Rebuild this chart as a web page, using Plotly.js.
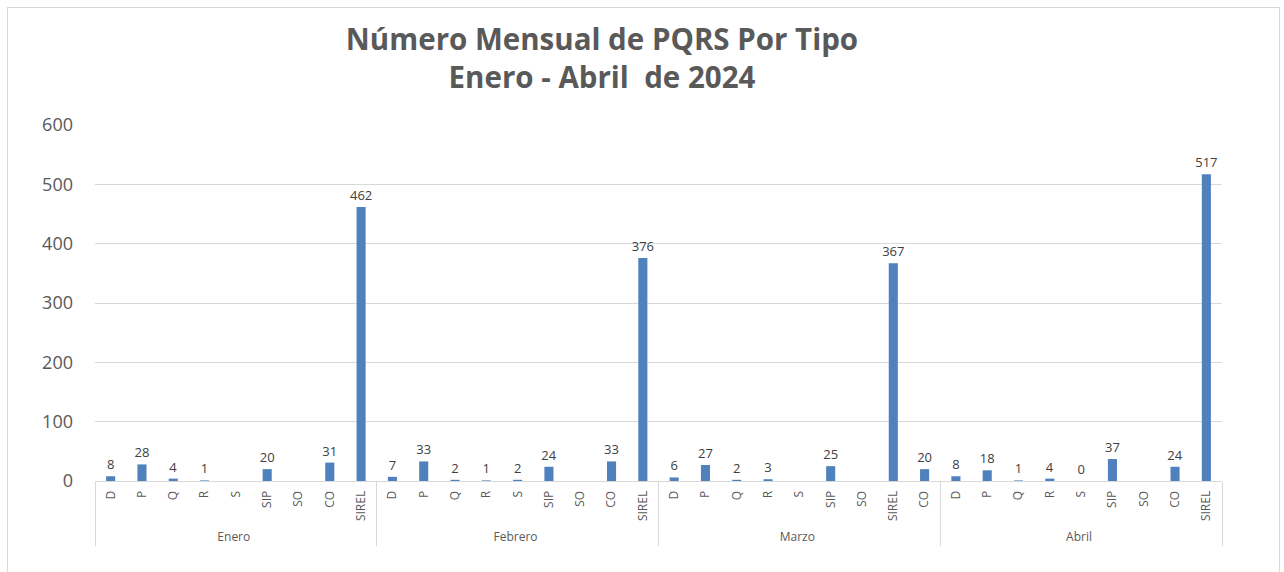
<!DOCTYPE html>
<html>
<head>
<meta charset="utf-8">
<script src="https://cdn.plot.ly/plotly-3.0.1.min.js"></script>
<style>
html,body{margin:0;padding:0;background:#fff;}
#frame{position:absolute;left:7px;top:7px;width:1273px;height:570px;border:1px solid #d9d9d9;box-sizing:border-box;}
#chart{position:absolute;left:0;top:0;width:1284px;height:572px;}
</style>
</head>
<body>
<div id="frame"></div>
<div id="chart"></div>
<script>
const months = ['Enero', 'Febrero', 'Marzo', 'Abril'];
const typesEnero   = ['D', 'P', 'Q', 'R', 'S', 'SIP', 'SO', 'CO', 'SIREL'];
const typesFebrero = ['D', 'P', 'Q', 'R', 'S', 'SIP', 'SO', 'CO', 'SIREL'];
const typesMarzo   = ['D', 'P', 'Q', 'R', 'S', 'SIP', 'SO', 'SIREL', 'CO'];
const typesAbril   = ['D', 'P', 'Q', 'R', 'S', 'SIP', 'SO', 'CO', 'SIREL'];
const valuesEnero   = [8, 28, 4, 1, null, 20, null, 31, 462];
const valuesFebrero = [7, 33, 2, 1, 2, 24, null, 33, 376];
const valuesMarzo   = [6, 27, 2, 3, null, 25, null, 367, 20];
const valuesAbril   = [8, 18, 1, 4, 0, 37, null, 24, 517];

const typeLists = [typesEnero, typesFebrero, typesMarzo, typesAbril];
const valueLists = [valuesEnero, valuesFebrero, valuesMarzo, valuesAbril];

// Plotly orders inner categories globally; an invisible per-month suffix
// keeps each month's own order (Marzo has SIREL before CO).
const outer = [], inner = [], ys = [], texts = [];
months.forEach((m, i) => {
  typeLists[i].forEach((t, j) => {
    outer.push(m);
    inner.push(t + '\u200B'.repeat(i));
    const v = valueLists[i][j];
    ys.push(v);
    texts.push(v === null ? '' : String(v));
  });
});

const trace = {
  type: 'bar',
  x: [outer, inner],
  y: ys,
  text: texts,
  textposition: 'outside',
  constraintext: 'none',
  cliponaxis: false,
  textfont: {family: 'Open Sans, sans-serif', size: 13, color: '#404040'},
  marker: {color: '#4F81BD'},
  hoverinfo: 'none'
};

const layout = {
  width: 1284,
  height: 572,
  margin: {l: 95, r: 62, t: 125, b: 91},
  paper_bgcolor: 'rgba(0,0,0,0)',
  plot_bgcolor: 'rgba(0,0,0,0)',
  bargap: 0.71,
  showlegend: false,
  title: {
    text: '<b>Número Mensual de PQRS Por Tipo<br>Enero - Abril  de 2024</b>',
    font: {family: 'Open Sans, sans-serif', size: 29.5, color: '#595959'},
    xref: 'container',
    x: 602 / 1284,
    xanchor: 'center',
    yref: 'container',
    y: 1 - 50 / 572,
    yanchor: 'middle'
  },
  xaxis: {
    type: 'multicategory',
    tickangle: -90,
    tickfont: {family: 'Open Sans, sans-serif', size: 12, color: '#595959'},
    ticklabelstandoff: 4,
    showline: true,
    linecolor: '#d9d9d9',
    linewidth: 1,
    showdividers: true,
    dividercolor: '#d9d9d9',
    dividerwidth: 1,
    ticks: '',
    showgrid: false
  },
  yaxis: {
    range: [0, 600],
    dtick: 100,
    tickfont: {family: 'Open Sans, sans-serif', size: 18, color: '#595959'},
    gridcolor: '#d9d9d9',
    gridwidth: 1,
    zeroline: false,
    ticklen: 0,
    ticklabelstandoff: 21
  }
};

Plotly.newPlot('chart', [trace], layout, {displayModeBar: false, staticPlot: true});
</script>
</body>
</html>
